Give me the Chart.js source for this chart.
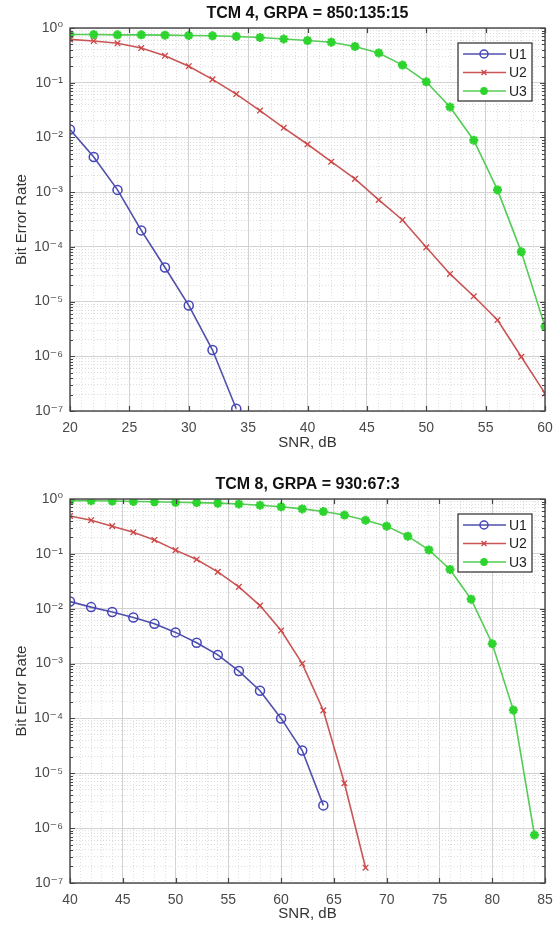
<!DOCTYPE html>
<html>
<head>
<meta charset="utf-8">
<script src="https://cdn.jsdelivr.net/npm/chart.js"></script>
<style>
  body { margin: 0; background: #fff; }
  .plot { position: absolute; left: 0; width: 553px; height: 466px; }
</style>
</head>
<body>
<div class="plot" style="top:0"><canvas id="tcm4" width="553" height="466"></canvas></div>
<div class="plot" style="top:466px"><canvas id="tcm8" width="553" height="466"></canvas></div>
<script>
// --- data ---
const seriesNames = ["U1", "U2", "U3"];

const snrTcm4 = [20, 22, 24, 26, 28, 30, 32, 34, 36, 38, 40, 42, 44, 46, 48, 50, 52, 54, 56, 58, 60];
const berTcm4U1 = [1.4e-2, 4.4e-3, 1.1e-3, 2.0e-4, 4.2e-5, 8.5e-6, 1.3e-6, 1.1e-7];
const berTcm4U2 = [0.62, 0.58, 0.525, 0.43, 0.31, 0.20, 0.115, 0.062, 0.031, 0.015, 7.5e-3,
                   3.6e-3, 1.75e-3, 7.2e-4, 3.1e-4, 9.8e-5, 3.2e-5, 1.25e-5, 4.6e-6, 9.8e-7, 2.1e-7];
const berTcm4U3 = [0.76, 0.76, 0.75, 0.75, 0.74, 0.73, 0.72, 0.70, 0.67, 0.63, 0.59,
                   0.55, 0.46, 0.35, 0.21, 0.104, 0.036, 8.9e-3, 1.1e-3, 8.1e-5, 3.5e-6];
const xTicksTcm4 = [20, 25, 30, 35, 40, 45, 50, 55, 60];

const snrTcm8 = [40, 42, 44, 46, 48, 50, 52, 54, 56, 58, 60, 62, 64, 66, 68, 70, 72, 74, 76, 78, 80, 82, 84];
const berTcm8U1 = [1.35e-2, 1.07e-2, 8.7e-3, 6.9e-3, 5.3e-3, 3.7e-3, 2.4e-3, 1.44e-3, 7.3e-4,
                   3.2e-4, 1.0e-4, 2.6e-5, 2.6e-6];
const berTcm8U2 = [0.49, 0.41, 0.32, 0.247, 0.179, 0.117, 0.079, 0.047, 0.025, 0.0114,
                   4.0e-3, 1.0e-3, 1.4e-4, 6.6e-6, 1.9e-7];
const berTcm8U3 = [0.93, 0.93, 0.92, 0.90, 0.89, 0.87, 0.86, 0.84, 0.81, 0.77, 0.72, 0.66,
                   0.59, 0.51, 0.41, 0.32, 0.21, 0.118, 0.052, 0.0149, 2.3e-3, 1.42e-4, 7.5e-7];
const xTicksTcm8 = [40, 45, 50, 55, 60, 65, 70, 75, 80, 85];

const yDecades = [-7, -6, -5, -4, -3, -2, -1, 0];
const yMinorMults = [2, 3, 4, 5, 6, 7, 8, 9];

const FONT = "'Liberation Sans', Arial, 'DejaVu Sans', sans-serif";
Chart.defaults.font.family = FONT;

const SUP = { "-": "\u207B", "0": "\u2070", "1": "\u00B9", "2": "\u00B2", "3": "\u00B3", "4": "\u2074",
              "5": "\u2075", "6": "\u2076", "7": "\u2077", "8": "\u2078", "9": "\u2079" };
const sup = s => String(s).split("").map(c => SUP[c]).join("");

function isDecade(v) {
  const e = Math.log10(v);
  return Math.abs(e - Math.round(e)) < 1e-6;
}

const styles = [
  { borderColor: "#5050ac", pointStyle: "circle", pointRadius: 4.5, pointBorderColor: "#4444bb",
    pointBackgroundColor: "rgba(0,0,0,0)", pointBorderWidth: 1.5 },
  { borderColor: "#c95656", pointStyle: "crossRot", pointRadius: 4, pointBorderColor: "#d04444",
    pointBackgroundColor: "#d04444", pointBorderWidth: 1.3 },
  { borderColor: "#55cc55", pointStyle: "star", pointRadius: 4.5, pointBorderColor: "#2ed42e",
    pointBackgroundColor: "#2ed42e", pointBorderWidth: 2.6 }
];

// MATLAB-ish box, inward ticks and an inset legend
function framePlugin(majorX) {
  return {
    id: "frame",
    afterDatasetsDraw(chart) {
      const { ctx, chartArea: a, scales } = chart;
      ctx.save();
      ctx.strokeStyle = "#454545";
      ctx.lineWidth = 1.2;
      ctx.beginPath();
      scales.x.ticks.forEach(t => {
        if (!majorX.includes(t.value)) return;
        const px = Math.round(scales.x.getPixelForValue(t.value)) + 0.5;
        ctx.moveTo(px, a.bottom); ctx.lineTo(px, a.bottom - 5);
        ctx.moveTo(px, a.top); ctx.lineTo(px, a.top + 5);
      });
      scales.y.ticks.forEach(t => {
        const py = Math.round(scales.y.getPixelForValue(t.value)) + 0.5;
        const len = isDecade(t.value) ? 5 : 3;
        ctx.moveTo(a.left, py); ctx.lineTo(a.left + len, py);
        ctx.moveTo(a.right, py); ctx.lineTo(a.right - len, py);
      });
      ctx.stroke();
      ctx.lineWidth = 1.4;
      ctx.strokeRect(a.left, a.top, a.right - a.left, a.bottom - a.top);
      ctx.restore();
    },
    afterDraw(chart) {
      const { ctx, chartArea: a } = chart;
      const w = 74, h = 58;
      const x0 = a.right - 13 - w, y0 = a.top + 15;
      ctx.save();
      ctx.fillStyle = "#fff";
      ctx.fillRect(x0, y0, w, h);
      ctx.strokeStyle = "#3a3a3a";
      ctx.lineWidth = 1.3;
      ctx.strokeRect(x0, y0, w, h);
      chart.data.datasets.forEach((ds, i) => {
        const y = y0 + 11 + i * 18.5;
        ctx.strokeStyle = ds.borderColor;
        ctx.lineWidth = ds.borderWidth;
        ctx.beginPath();
        ctx.moveTo(x0 + 5, y); ctx.lineTo(x0 + 48, y);
        ctx.stroke();
        ctx.strokeStyle = ds.pointBorderColor;
        ctx.fillStyle = ds.pointBackgroundColor;
        ctx.lineWidth = ds.pointBorderWidth;
        Chart.helpers.drawPoint(ctx, { pointStyle: ds.pointStyle, radius: ds.pointRadius - 0.5,
          borderWidth: ds.pointBorderWidth, rotation: 0 }, x0 + 26, y);
        ctx.fillStyle = "#222";
        ctx.font = "14px " + FONT;
        ctx.textBaseline = "middle";
        ctx.fillText(ds.label, x0 + 51, y + 1);
      });
      ctx.restore();
    }
  };
}

function makePlot(id, title, snr, bers, xMin, xMax, majorX, lay) {
  const datasets = bers.map((ber, i) => Object.assign({
    label: seriesNames[i],
    data: ber.map((v, j) => ({ x: snr[j], y: v })),
    borderWidth: 1.6,
    tension: 0,
    fill: false
  }, styles[i]));

  return new Chart(document.getElementById(id), {
    type: "line",
    data: { datasets },
    plugins: [framePlugin(majorX)],
    options: {
      animation: false,
      responsive: false,
      devicePixelRatio: 1,
      events: [],
      layout: { padding: { left: 0, right: 8, top: 0, bottom: 0 } },
      plugins: {
        legend: { display: false },
        tooltip: { enabled: false },
        title: {
          display: true,
          text: title,
          fullSize: false,
          color: "#111",
          font: { size: 16, weight: "bold" },
          padding: { top: lay.titleTop, bottom: lay.titleBottom }
        }
      },
      scales: {
        x: {
          type: "linear",
          min: xMin,
          max: xMax,
          afterBuildTicks: s => {
            const t = [];
            for (let v = xMin; v <= xMax; v++) t.push({ value: v });
            s.ticks = t;
          },
          afterFit: s => { s.height = lay.xAxisH; s.paddingRight = 0; s.paddingLeft = 0; },
          ticks: {
            autoSkip: false,
            maxRotation: 0,
            padding: 9,
            color: "#4a4a4a",
            font: { size: 14 },
            callback: v => majorX.includes(v) ? String(v) : ""
          },
          grid: {
            drawTicks: false,
            color: c => c.tick && majorX.includes(c.tick.value) ? "#d2d2d2" : "#dedede"
          },
          border: {
            display: false,
            dash: c => (c.tick && !majorX.includes(c.tick.value)) ? [1, 2] : []
          },
          title: {
            display: true,
            text: "SNR, dB",
            color: "#333",
            font: { size: 15 },
            padding: { top: 0, bottom: lay.xTitlePad }
          }
        },
        y: {
          type: "logarithmic",
          min: 1e-7,
          max: 1,
          afterBuildTicks: s => {
            const t = [];
            yDecades.forEach(e => {
              t.push({ value: Math.pow(10, e) });
              if (e < 0) yMinorMults.forEach(m => t.push({ value: m * Math.pow(10, e) }));
            });
            s.ticks = t.sort((p, q) => p.value - q.value);
          },
          afterFit: s => { s.width = 70; s.paddingTop = 0; s.paddingBottom = 0; },
          ticks: {
            autoSkip: false,
            padding: 7,
            color: "#4a4a4a",
            font: { size: 14 },
            callback: v => isDecade(v) ? "10" + sup(Math.round(Math.log10(v))) : ""
          },
          grid: {
            drawTicks: false,
            color: c => c.tick && isDecade(c.tick.value) ? "#d2d2d2" : "#dedede"
          },
          border: {
            display: false,
            dash: c => (c.tick && !isDecade(c.tick.value)) ? [1, 2] : []
          },
          title: {
            display: true,
            text: "Bit Error Rate",
            color: "#333",
            font: { size: 15 },
            padding: { top: 13, bottom: 0 }
          }
        }
      }
    }
  });
}

makePlot("tcm4", "TCM 4, GRPA = 850:135:15", snrTcm4, [berTcm4U1, berTcm4U2, berTcm4U3],
  20, 60, xTicksTcm4, { titleTop: 4.4, titleBottom: 4.4, xAxisH: 55, xTitlePad: 14 });
makePlot("tcm8", "TCM 8, GRPA = 930:67:3", snrTcm8, [berTcm8U1, berTcm8U2, berTcm8U3],
  40, 85, xTicksTcm8, { titleTop: 9, titleBottom: 4.8, xAxisH: 49, xTitlePad: 9 });
</script>
</body>
</html>
